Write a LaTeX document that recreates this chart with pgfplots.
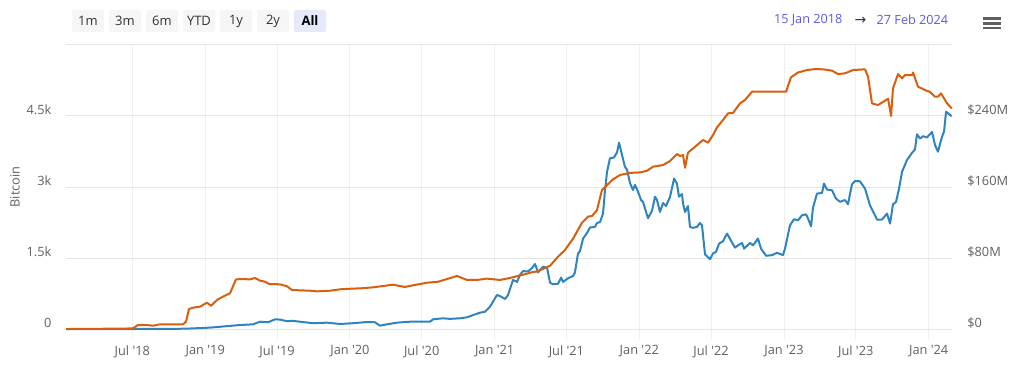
\documentclass[border=0pt]{standalone}
\usepackage{pgfplots}
\pgfplotsset{compat=1.18}
\usepackage{fontspec}
\setmainfont{Open Sans}
\newfontfamily\symfont{DejaVu Sans}
\definecolor{btc}{RGB}{47,132,192}
\definecolor{usd}{RGB}{217,94,14}
\definecolor{hgrid}{RGB}{228,228,228}
\definecolor{vgrid}{RGB}{240,240,240}
\definecolor{lab}{RGB}{96,96,96}
\definecolor{btnbg}{RGB}{246,246,246}
\definecolor{btnsel}{RGB}{230,233,250}
\definecolor{datec}{RGB}{90,90,235}
\definecolor{btntext}{RGB}{51,51,51}
\newcommand{\lf}{\fontsize{9.6}{11}\selectfont}
\begin{document}
\begin{tikzpicture}
\path[use as bounding box] (0,0) rectangle (768pt,279.75pt);
\begin{axis}[
  at={(49.575pt,32.775pt)}, anchor=south west, scale only axis,
  width=664.2pt, height=213.3pt,
  xmin=2018.038, xmax=2024.159, ymin=0, ymax=6000,
  axis x line*=bottom, axis y line*=left,
  x axis line style={draw=hgrid, line width=0.8pt, -},
  y axis line style={draw=none},
  xtick={2018.496,2019,2019.496,2020,2020.496,2021,2021.496,2022,2022.496,2023,2023.496,2024},
  xticklabels={Jul \textquotesingle18,Jan \textquotesingle19,Jul \textquotesingle19,Jan \textquotesingle20,Jul \textquotesingle20,Jan \textquotesingle21,Jul \textquotesingle21,Jan \textquotesingle22,Jul \textquotesingle22,Jan \textquotesingle23,Jul \textquotesingle23,Jan \textquotesingle24},
  ytick={0,1500,3000,4500,6000},
  yticklabels={0,1.5k,3k,4.5k,{}},
  tick align=outside,
  major tick length=7.5pt,
  xtick style={draw=vgrid, line width=0.75pt},
  ytick style={draw=none},
  xmajorgrids, ymajorgrids,
  x grid style={draw=vgrid, line width=0.75pt},
  y grid style={draw=hgrid, line width=0.75pt},
  xticklabel style={font=\lf, text=lab, yshift=-1pt},
  yticklabel style={font=\lf, text=lab, yshift=4.5pt},
  clip=false,
]
\addplot[btc, line width=1.5pt, line join=round] coordinates {
(2018.038,2) (2018.445,5) (2018.860,12) (2019.033,35) (2019.219,85) (2019.330,105)
(2019.378,160) (2019.434,148) (2019.482,210) (2019.516,205) (2019.565,170) (2019.599,180)
(2019.655,160) (2019.745,128) (2019.841,140) (2019.931,112) (2020.021,128) (2020.118,154)
(2020.173,148) (2020.208,76) (2020.256,105) (2020.325,140) (2020.415,160) (2020.553,160)
(2020.574,210) (2020.643,232) (2020.691,220) (2020.761,232) (2020.809,253) (2020.850,300)
(2020.899,350) (2020.933,370) (2020.968,476) (2021.016,723) (2021.037,700) (2021.072,640)
(2021.092,720) (2021.127,1040) (2021.155,1000) (2021.175,1150) (2021.196,1227) (2021.231,1220)
(2021.258,1294) (2021.279,1378) (2021.300,1200) (2021.334,1321) (2021.362,1300) (2021.383,983)
(2021.403,950) (2021.438,960) (2021.459,1090) (2021.473,1000) (2021.507,1076) (2021.542,1125)
(2021.555,1200) (2021.576,1597) (2021.590,1650) (2021.611,1914) (2021.638,2032) (2021.659,2146)
(2021.694,2160) (2021.707,2243) (2021.728,2260) (2021.749,2442) (2021.763,2939) (2021.777,3325)
(2021.797,3607) (2021.825,3625) (2021.846,3734) (2021.860,3937) (2021.880,3680) (2021.901,3424)
(2021.915,3370) (2021.936,3080) (2021.956,2939) (2021.970,3044) (2021.984,2955) (2022.012,2728)
(2022.025,2690) (2022.060,2342) (2022.088,2505) (2022.108,2797) (2022.122,2728) (2022.143,2475)
(2022.164,2665) (2022.184,2600) (2022.212,2790) (2022.240,3180) (2022.260,3075) (2022.274,2797)
(2022.295,2853) (2022.302,2655) (2022.316,2475) (2022.336,2600) (2022.350,2160) (2022.371,2140)
(2022.399,2160) (2022.419,2243) (2022.433,2194) (2022.454,1580) (2022.489,1480) (2022.509,1600)
(2022.530,1631) (2022.551,1808) (2022.578,1857) (2022.606,2019) (2022.641,1829) (2022.661,1723)
(2022.682,1772) (2022.710,1821) (2022.724,1702) (2022.765,1821) (2022.786,1772) (2022.820,1914)
(2022.841,1702) (2022.876,1551) (2022.917,1565) (2022.952,1614) (2022.993,1566) (2023.007,1702)
(2023.041,2194) (2023.069,2321) (2023.097,2300) (2023.124,2405) (2023.152,2426) (2023.166,2335)
(2023.187,2173) (2023.200,2560) (2023.228,2863) (2023.263,2877) (2023.276,3074) (2023.297,2947)
(2023.332,2933) (2023.359,2758) (2023.387,2690) (2023.422,2726) (2023.442,2637) (2023.470,3060)
(2023.491,3129) (2023.525,3122) (2023.560,2968) (2023.594,2616) (2023.643,2314) (2023.677,2314)
(2023.712,2442) (2023.733,2230) (2023.753,2637) (2023.774,2686) (2023.795,2968) (2023.816,3325)
(2023.850,3572) (2023.885,3724) (2023.905,3791) (2023.919,4115) (2023.940,4025) (2023.961,4074)
(2023.988,4046) (2024.023,4163) (2024.044,3885) (2024.064,3747) (2024.092,4061) (2024.106,4170)
(2024.120,4590) (2024.134,4555) (2024.159,4495)
};
\end{axis}
\begin{axis}[
  at={(49.575pt,32.775pt)}, anchor=south west, scale only axis,
  width=664.2pt, height=213.3pt,
  xmin=2018.038, xmax=2024.159, ymin=0, ymax=320,
  axis x line=none, axis y line*=right,
  y axis line style={draw=none},
  ytick={0,80,160,240,320},
  yticklabels={\$0,\$80M,\$160M,\$240M,{}},
  tick align=outside,
  major tick length=7.5pt,
  ytick style={draw=none},
  yticklabel style={font=\lf, text=lab, xshift=0.7pt, yshift=4.5pt},
  clip=false,
]
\addplot[usd, line width=1.5pt, line join=round] coordinates {
(2018.038,0.3) (2018.445,0.8) (2018.500,1.1) (2018.535,4.8) (2018.597,4.8) (2018.639,4.0)
(2018.687,5.6) (2018.846,5.6) (2018.867,8.6) (2018.887,22.8) (2018.915,24.3) (2018.964,25.5)
(2019.012,30) (2019.040,26.5) (2019.081,33) (2019.122,36.7) (2019.171,40.5) (2019.212,56.2)
(2019.254,56.5) (2019.309,56.2) (2019.344,57.7) (2019.378,54.7) (2019.413,53.6) (2019.440,51)
(2019.516,50.6) (2019.565,48.4) (2019.599,44.2) (2019.724,43.4) (2019.772,42.7) (2019.862,43.4)
(2019.931,45) (2020.021,45.8) (2020.069,46) (2020.159,47.2) (2020.298,50.2) (2020.380,47.6)
(2020.436,49.5) (2020.532,52.4) (2020.609,53.5) (2020.671,56.6) (2020.740,60) (2020.809,55.5)
(2020.878,55.5) (2020.947,57) (2021.037,55.5) (2021.092,57.3) (2021.175,60.5) (2021.265,64.5)
(2021.293,65) (2021.383,71.5) (2021.438,81.7) (2021.486,89.2) (2021.542,102) (2021.604,120)
(2021.645,126.7) (2021.673,127.5) (2021.707,134) (2021.742,156.7) (2021.777,162.3) (2021.818,168.7)
(2021.866,173.6) (2021.936,176) (2022.005,176.5) (2022.053,178.4) (2022.095,183) (2022.164,184.8)
(2022.212,189.3) (2022.260,197.2) (2022.281,195) (2022.302,196) (2022.316,181.8) (2022.336,198.7)
(2022.399,207.3) (2022.440,213) (2022.475,210) (2022.509,218.6) (2022.537,227.2) (2022.578,235.5)
(2022.613,243) (2022.648,243.5) (2022.696,254.2) (2022.730,258) (2022.779,267.3) (2023.014,267.3)
(2023.048,283.5) (2023.097,289) (2023.159,291.7) (2023.214,292.8) (2023.270,292.5) (2023.332,291)
(2023.373,287.2) (2023.422,288) (2023.477,291.7) (2023.560,292.5) (2023.581,284.2) (2023.608,254.2)
(2023.650,252.3) (2023.712,258.7) (2023.719,259.5) (2023.740,240) (2023.753,271) (2023.788,287.2)
(2023.816,282.4) (2023.836,286) (2023.885,286) (2023.892,289) (2023.926,273) (2023.975,269.2)
(2024.009,267) (2024.044,261.7) (2024.064,261.7) (2024.085,265.5) (2024.127,254.2) (2024.159,248.6)
};
\end{axis}
\begin{scope}[x=0.75pt, y=-0.75pt, yshift=279.75pt]
  \node[rotate=90, font=\lf, text=lab] at (15,187) {Bitcoin};
  \foreach \xa/\lbl in {72/1m,109/3m,146/6m,183/YTD,220/1y,257/2y}{
    \fill[btnbg, rounded corners=1.5pt] (\xa,10) rectangle ++(32,22);
    \node[font=\fontsize{9.75}{11}\selectfont, text=btntext] at (\xa+16,21) {\lbl};
  }
  \fill[btnsel, rounded corners=1.5pt] (294,10) rectangle ++(32,22);
  \node[font=\fontsize{9.75}{11}\selectfont\bfseries, text=black] at (310,21) {All};
  \node[font=\fontsize{9.5}{11}\selectfont, text=datec, anchor=east] at (847,20) {15 Jan 2018};
  \node[font=\symfont\fontsize{10.5}{11}\selectfont, text=btntext] at (860.5,20.5) {→};
  \node[font=\fontsize{9.5}{11}\selectfont, text=datec, anchor=west] at (872,20) {27 Feb 2024};
  \foreach \yy in {18.7,23.3,28}{
    \fill[lab] (983.3,\yy-1.3) rectangle (1000.7,\yy+1.3);
  }
\end{scope}
\end{tikzpicture}
\end{document}
